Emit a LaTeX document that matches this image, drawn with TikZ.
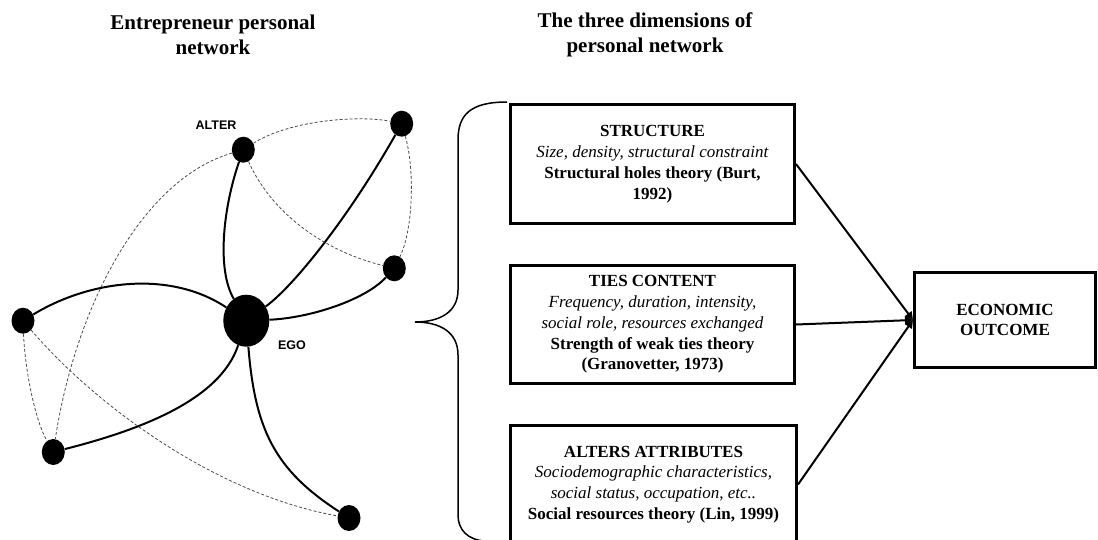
\documentclass[tikz,border=0pt]{standalone}
\usepackage{fontspec}
\setmainfont{Liberation Serif}
\newfontfamily\labelfont{Liberation Sans}
\usetikzlibrary{shapes.geometric,arrows.meta}
\begin{document}
\begin{tikzpicture}[x=1pt,y=-1pt,
  alter/.style={ellipse,fill=black,inner sep=0pt,minimum width=23pt,minimum height=26pt},
  egonode/.style={ellipse,fill=black,inner sep=0pt,minimum width=46pt,minimum height=52pt},
  strong/.style={line width=2pt},
  weak/.style={line width=0.8pt,gray!60!black,dash pattern=on 3pt off 2pt},
  tag/.style={font=\labelfont\bfseries\fontsize{12.5}{14}\selectfont,inner sep=0pt},
  title/.style={font=\bfseries\fontsize{21}{25}\selectfont,align=center,inner sep=0pt},
  dimbox/.style={draw,line width=3pt,inner sep=0pt,align=center,
    minimum width=284pt,minimum height=119pt,font=\fontsize{17}{20.8}\selectfont},
  link/.style={line width=2pt,-{Triangle[length=8pt,width=8pt]}}
]
\useasboundingbox (0,0) rectangle (1098,539);

% headings
\node[title] (t1) at (213,35) {Entrepreneur personal\\network};
\node[title] (t2) at (645,35) {The three dimensions of\\personal network};

% ego network
\node[egonode] (ego) at (246.3,320.7) {};
\node[alter] (a1) at (243.3,149.7) {};
\node[alter] (a2) at (401.7,123.7) {};
\node[alter] (a3) at (394.3,268.3) {};
\node[alter] (a4) at (23,320.7) {};
\node[alter] (a5) at (53.3,452) {};
\node[alter] (a6) at (349,518) {};
\node[tag] (lalter) at (216,125) {ALTER};
\node[tag] (lego) at (292,345) {EGO};

% strong ties
\draw[strong] (ego) .. controls (216,268) and (224,205) .. (a1);
\draw[strong] (ego) .. controls (295,285) and (350,215) .. (a2);
\draw[strong] (ego) .. controls (310,318) and (365,300) .. (a3);
\draw[strong] (ego) .. controls (170,270) and (90,280) .. (a4);
\draw[strong] (ego) .. controls (220,400) and (140,430) .. (a5);
\draw[strong] (ego) .. controls (255,430) and (275,470) .. (a6);

% weak ties
\draw[weak] (a1) .. controls (290,120) and (360,115) .. (a2);
\draw[weak] (a1) .. controls (270,210) and (320,250) .. (a3);
\draw[weak] (a2) .. controls (415,170) and (413,230) .. (a3);
\draw[weak] (a1) .. controls (140,180) and (75,310) .. (a5);
\draw[weak] (a4) .. controls (25,370) and (35,420) .. (a5);
\draw[weak] (a4) .. controls (100,410) and (220,495) .. (a6);

% brace
\draw[line width=1.5pt] (507,102) .. controls (470,102) and (458,115) .. (458,140)
  -- (458,290) .. controls (458,312) and (440,322) .. (415,322)
  .. controls (440,322) and (458,332) .. (458,355)
  -- (458,515) .. controls (458,530) and (468,540) .. (485,541);

% dimensions
\node[dimbox] (s) at (652.5,164) {\textbf{STRUCTURE}\\\textit{Size, density, structural constraint}\\\textbf{Structural holes theory (Burt,}\\\textbf{1992)}};
\node[dimbox,minimum height=118pt] (c) at (652.5,324.5) {\textbf{TIES CONTENT}\\\textit{Frequency, duration, intensity,}\\\textit{social role, resources exchanged}\\\textbf{Strength of weak ties theory}\\\textbf{(Granovetter, 1973)}};
\node[dimbox,minimum width=286pt,minimum height=118pt] (r) at (653.5,484.5) {\textbf{ALTERS ATTRIBUTES}\\\textit{Sociodemographic characteristics,}\\\textit{social status, occupation, etc..}\\\textbf{Social resources theory (Lin, 1999)}};
\node[dimbox,minimum width=181pt,minimum height=95pt] (e) at (1005,320) {\textbf{ECONOMIC}\\\textbf{OUTCOME}};

\draw[link] (s.east) -- (e.west);
\draw[link] (c.east) -- (e.west);
\draw[link] (r.east) -- (e.west);
\end{tikzpicture}
\end{document}
